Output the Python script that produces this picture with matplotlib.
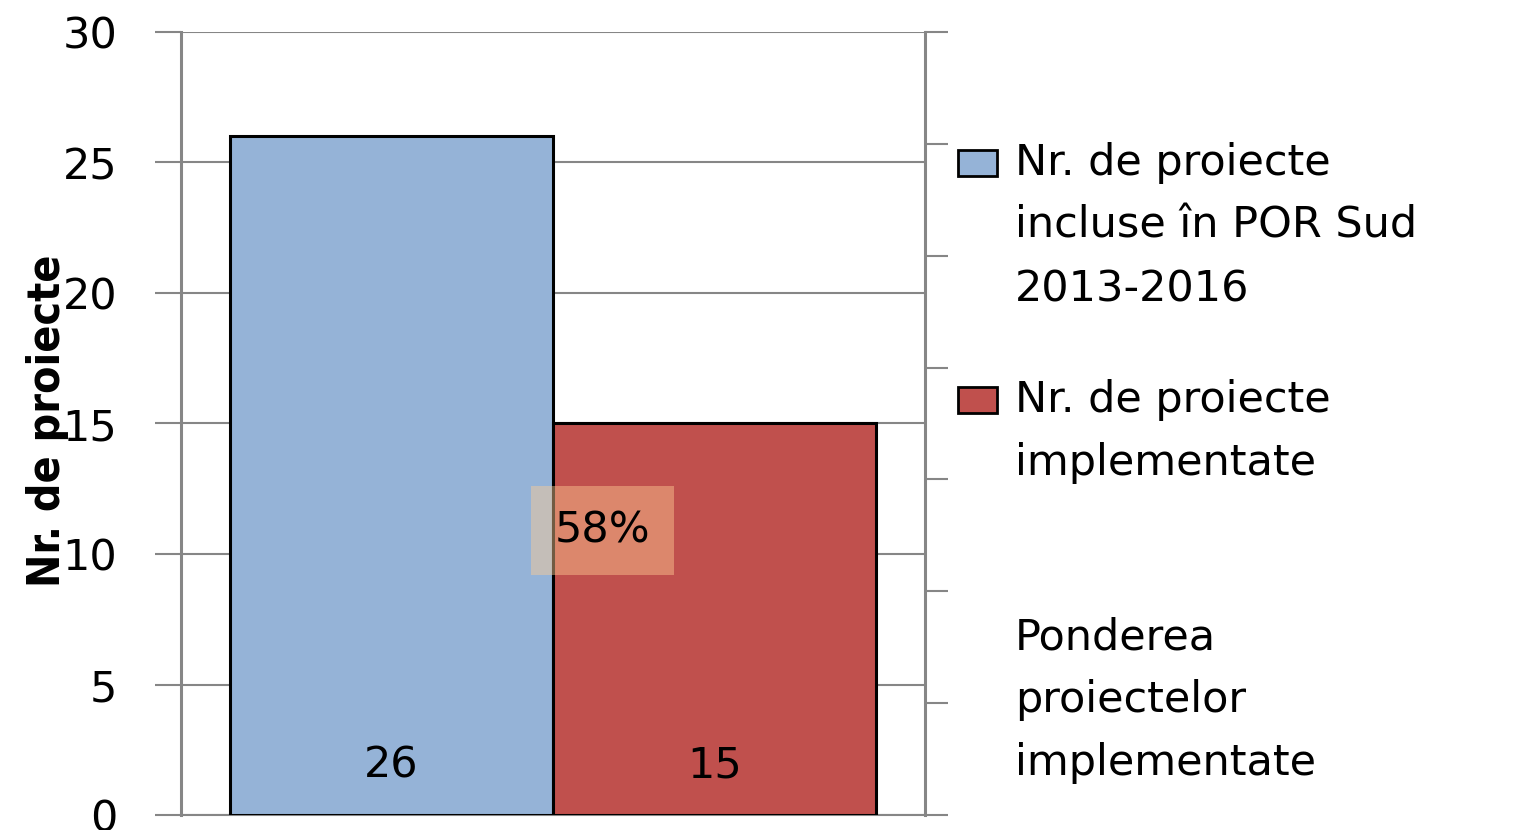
import matplotlib
matplotlib.use("Agg")
import matplotlib.pyplot as plt
from matplotlib.patches import Rectangle

# date
serii = ["Nr. de proiecte\nincluse în POR Sud\n2013-2016", "Nr. de proiecte\nimplementate"]
valori = [26, 15]
culori = ["#95B3D7", "#C0504D"]
eticheta_pondere = "Ponderea\nproiectelor\nimplementate"
yticks = [0, 5, 10, 15, 20, 25, 30]
yticks_dreapta = [0, 0.1, 0.2, 0.3, 0.4, 0.5, 0.6, 0.7]

W, H = 1528, 830
fs = 31
fig = plt.figure(figsize=(W / 100, H / 100), dpi=100)
ax = fig.add_axes([181 / W, 1 - 815 / H, 744 / W, 783 / H])

gri = "#868686"
latime = 0.434
x0 = [-latime, 0]
bare = ax.bar(x0, valori, width=latime, align="edge", color=culori,
              edgecolor="black", linewidth=2.2, zorder=3)

for b, v in zip(bare, valori):
    ax.annotate(str(v), (b.get_x() + b.get_width() / 2, 0), xytext=(0, 36),
                textcoords="offset points", ha="center", va="center",
                fontsize=fs, zorder=5)

pondere = valori[1] / valori[0]
ax.text(0.066, 10.9, f"{pondere:.0%}", ha="center", va="center", fontsize=fs,
        zorder=6,
        bbox=dict(boxstyle="square,pad=0.55", fc="#FFCC94", ec="none", alpha=0.45))

ax.set_xlim(-0.5, 0.5)
ax.set_ylim(0, 30)
ax.set_yticks(yticks)
ax.set_xticks([])
ax.tick_params(axis="y", labelsize=fs, length=19, width=1.5, color=gri, pad=27)
ax.yaxis.grid(True, color=gri, linewidth=1.5, zorder=0)
ax.spines["top"].set_visible(False)
ax.spines["left"].set_color(gri)
ax.spines["left"].set_linewidth(2.2)
ax.spines["right"].set_color(gri)
ax.spines["right"].set_linewidth(2.2)
ax.spines["bottom"].set_color(gri)
ax.spines["bottom"].set_linewidth(1.5)

ax.set_ylabel("Nr. de proiecte", fontsize=32, fontweight="bold",
              fontstretch="condensed",
              family=["DejaVu Sans"])
ax.yaxis.label.set_va("center")
ax.yaxis.set_label_coords(-0.18, 0.504)

ax2 = ax.twinx()
ax2.set_ylim(0, 0.7)
ax2.set_yticks(yticks_dreapta)
ax2.set_yticklabels([])
ax2.tick_params(axis="y", length=16.5, width=1.5, color=gri)
for s in ax2.spines.values():
    s.set_visible(False)

# legenda
def fx(px):
    return px / W

def fy(py):
    return 1 - py / H

intrari = [(serii[0], culori[0]), (serii[1], culori[1]), (eticheta_pondere, None)]
pas_rand = 63
for i, (text, cul) in enumerate(intrari):
    y = 163 + i * 237
    if cul is not None:
        fig.patches.append(Rectangle((fx(958), fy(y + 13)), 39 / W, 26 / H,
                                     transform=fig.transFigure, fc=cul,
                                     ec="black", lw=2))
    for j, rand in enumerate(text.split("\n")):
        fig.text(fx(1015), fy(y + j * pas_rand), rand, fontsize=fs,
                 ha="left", va="center")

fig.savefig("out.png", dpi=100)
